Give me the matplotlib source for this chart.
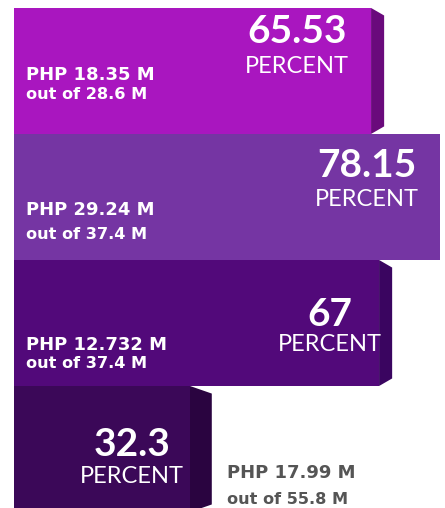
import matplotlib
matplotlib.use("Agg")
import matplotlib.pyplot as plt
from matplotlib.patches import Polygon

# ---- data ----
percents = [65.53, 78.15, 67, 32.3]
amounts = ["PHP 18.35 M", "PHP 29.24 M", "PHP 12.732 M", "PHP 17.99 M"]
totals = ["out of 28.6 M", "out of 37.4 M", "out of 37.4 M", "out of 55.8 M"]
pct_labels = ["65.53", "78.15", "67", "32.3"]

# ---- style ----
face_colors = ["#A916BF", "#7535A3", "#52097A", "#3B0858"]
side_colors = ["#6A0A7C", "#5A2088", "#3A0560", "#2A0440"]
side_depth = [2.4, 0.0, 2.4, 4.0]
FONT = ["Lato", "DejaVu Sans"]
FONT2 = ["DejaVu Sans"]

fig = plt.figure(figsize=(4.45, 5.08), dpi=100)
ax = fig.add_axes([0, 0, 1, 1])
ax.set_xlim(-2.57, 79.1)
ax.set_ylim(3.468, -0.563)
ax.axis("off")

ys = list(range(len(percents)))
for y, p, d, c in zip(ys, percents, side_depth, side_colors):
    if d > 0:
        dy = 0.06
        poly = Polygon([(p, y - 0.5), (p + d, y - 0.5 + dy), (p + d, y + 0.5 - dy),
                        (p, y + 0.5)], closed=True, facecolor=c, edgecolor="none",
                       zorder=1)
        ax.add_patch(poly)
ax.barh(ys, percents, height=1.0, color=face_colors, edgecolor="none", zorder=2)

def px2x(px):
    return -2.57 + px / 445 * (79.1 + 2.57)

num_x = [297, 367, 330, 132]
num_dy = [-0.31, -0.246, -0.071, -0.032]
per_dy = [-0.032, 0.024, 0.167, 0.222]
amt_dy = [0.032, 0.103, 0.175, 0.190]
tot_dy = [0.19, 0.294, 0.325, 0.397]
amt_x = [26, 26, 26, 227]
amt_col = ["white", "white", "white", "#555555"]

for i, y in enumerate(ys):
    ax.text(px2x(num_x[i]), y + num_dy[i], pct_labels[i], color="white",
            fontsize=28, fontweight="bold", family=FONT, ha="center", va="center", zorder=3)
    ax.text(px2x(num_x[i]), y + per_dy[i], "PERCENT", color="white",
            fontsize=17, family=FONT, ha="center", va="center", zorder=3)
    ax.text(px2x(amt_x[i]), y + amt_dy[i], amounts[i], color=amt_col[i],
            fontsize=13, fontweight="bold", family=FONT2, ha="left", va="center", zorder=3)
    ax.text(px2x(amt_x[i]), y + tot_dy[i], totals[i], color=amt_col[i],
            fontsize=11.6, fontweight="bold", family=FONT2, ha="left", va="center", zorder=3)

fig.savefig("out.png", dpi=100, facecolor="white")
